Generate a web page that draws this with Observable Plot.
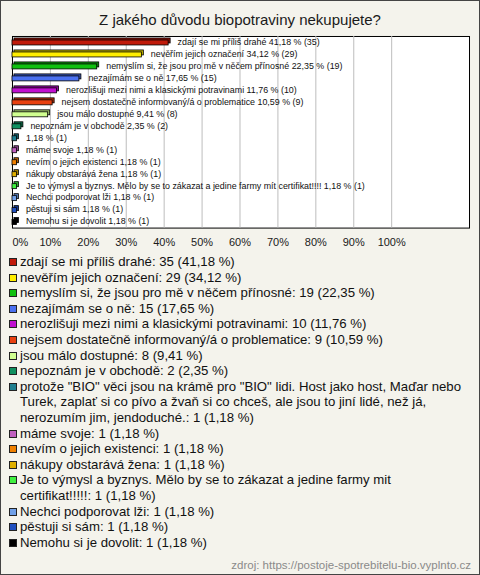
<!DOCTYPE html>
<html>
<head>
<meta charset="utf-8">
<script src="https://cdn.jsdelivr.net/npm/d3@7"></script>
<script src="https://cdn.jsdelivr.net/npm/@observablehq/plot@0.6"></script>
<style>
  html, body { margin: 0; padding: 0; background: #fff; }
  #page { position: relative; width: 480px; height: 575px; box-sizing: border-box;
          border: 1px solid #444; background: #f4f3ec; font-family: "Liberation Sans", Arial, sans-serif; overflow: hidden; }
  #title { position: absolute; left: 0; width: 478px; top: 10px; text-align: center;
           font-size: 15px; line-height: 18px; color: #1a1a1a; }
  #chart { position: absolute; left: -1px; top: 29px; }
  #legend { position: absolute; left: 8px; top: 253px; width: 460px; font-size: 13.2px; line-height: 15.6px; color: #111; }
  .item { display: flex; align-items: flex-start; }
  .sw { flex: 0 0 auto; width: 8px; height: 8px; box-sizing: border-box; border: 1px solid #222; margin-top: 4px; margin-right: 3px; }
  .tx { flex: 1 1 auto; }
  #caption { position: absolute; right: 8px; top: 557px; font-size: 11.5px; line-height: 14px; color: #8a8a8a; }
</style>
</head>
<body>
<div id="page">
  <div id="title"></div>
  <div id="chart"></div>
  <div id="legend"></div>
  <div id="caption"></div>
</div>
<script>
const titleText = "Z jakého důvodu biopotraviny nekupujete?";
const captionText = "zdroj: https://postoje-spotrebitelu-bio.vyplnto.cz";

const categories = [
  "zdají se mi příliš drahé",
  "nevěřím jejich označení",
  "nemyslím si, že jsou pro mě v něčem přínosné",
  "nezajímám se o ně",
  "nerozlišuji mezi nimi a klasickými potravinami",
  "nejsem dostatečně informovaný/á o problematice",
  "jsou málo dostupné",
  "nepoznám je v obchodě",
  "protože \"BIO\" věci jsou na krámě pro \"BIO\" lidi. Host jako host, Maďar nebo Turek, zaplať si co pívo a žvaň si co chceš, ale jsou to jiní lidé, než já, nerozumím jim, jendoduché.",
  "máme svoje",
  "nevím o jejich existenci",
  "nákupy obstarává žena",
  "Je to výmysl a byznys. Mělo by se to zákazat a jedine farmy mit certifikat!!!!!",
  "Nechci podporovat lži",
  "pěstuji si sám",
  "Nemohu si je dovolit"
];
// names as printed next to the bars in the chart (one answer is shown without its text)
const barNames = [
  "zdají se mi příliš drahé",
  "nevěřím jejich označení",
  "nemyslím si, že jsou pro mě v něčem přínosné",
  "nezajímám se o ně",
  "nerozlišuji mezi nimi a klasickými potravinami",
  "nejsem dostatečně informovaný/á o problematice",
  "jsou málo dostupné",
  "nepoznám je v obchodě",
  "",
  "máme svoje",
  "nevím o jejich existenci",
  "nákupy obstarává žena",
  "Je to výmysl a byznys. Mělo by se to zákazat a jedine farmy mít certifikat!!!!",
  "Nechci podporovat lži",
  "pěstuji si sám",
  "Nemohu si je dovolit"
];
const counts = [35, 29, 19, 15, 10, 9, 8, 2, 1, 1, 1, 1, 1, 1, 1, 1];
const percents = [41.18, 34.12, 22.35, 17.65, 11.76, 10.59, 9.41, 2.35, 1.18, 1.18, 1.18, 1.18, 1.18, 1.18, 1.18, 1.18];
const colors = [
  "#c01a0a", "#ffee00", "#10c010", "#4a70f0", "#c010d0", "#e84010", "#d0ff90", "#109060",
  "#208090", "#c060c0", "#f08000", "#e0b000", "#40f040", "#70a0e8", "#2050c0", "#000000"
];
const tickValues = [0, 10, 20, 30, 40, 50, 60, 70, 80, 90, 100];

const fmt = v => v.toFixed(2).replace(".", ",");
const rows = categories.map((c, i) => ({
  cat: c,
  pct: percents[i],
  count: counts[i],
  color: colors[i],
  dark: d3.color(colors[i]).darker(0.9).formatHex(),
  label: (barNames[i] ? barNames[i] + " " : "") + fmt(percents[i]) + " % (" + counts[i] + ")"
}));

document.getElementById("title").textContent = titleText;
document.getElementById("caption").textContent = captionText;

const chart = Plot.plot({
  width: 480,
  height: 226,
  marginTop: 6,
  marginBottom: 28,
  marginLeft: 12,
  marginRight: 10,
  style: { background: "transparent", fontFamily: "Liberation Sans, Arial, sans-serif" },
  x: { domain: [0, 100], range: [12, 392], axis: null, label: null },
  y: { domain: categories, padding: 0, axis: null, label: null },
  marks: [
    Plot.frame({ fill: "white", stroke: "#000" }),
    Plot.ruleX(tickValues.filter(d => d > 0), { stroke: "#bdbdbd", strokeWidth: 1 }),
    Plot.barX(rows, { y: "cat", x1: 0, x2: "pct", fill: "dark", stroke: "#000", strokeWidth: 0.8,
                      insetTop: 4, insetBottom: 3, dx: 2, dy: -2 }),
    Plot.barX(rows, { y: "cat", x1: 0, x2: "pct", fill: "color", stroke: "#000", strokeWidth: 0.8,
                      insetTop: 4, insetBottom: 3 }),
    Plot.text(rows, { y: "cat", x: "pct", text: "label", textAnchor: "start", dx: 9, dy: -0.5,
                      fontSize: 8.9, fill: "#111" }),
    Plot.axisX([0], { tickSize: 0, tickPadding: 10, tickFormat: d => d + "%", fontSize: 11,
                      textAnchor: "start", color: "#1a1a1a", label: null }),
    Plot.axisX(tickValues.filter(d => d > 0), { tickSize: 0, tickPadding: 10, tickFormat: d => d + "%",
                      fontSize: 11, color: "#1a1a1a", label: null })
  ]
});
document.getElementById("chart").appendChild(chart);

const legend = d3.select("#legend");
rows.forEach(r => {
  const it = legend.append("div").attr("class", "item");
  it.append("span").attr("class", "sw").style("background", r.color);
  it.append("span").attr("class", "tx").text(r.cat + ":\u00a0" + r.count + " (" + fmt(r.pct) + "\u00a0%)");
});
</script>
</body>
</html>
